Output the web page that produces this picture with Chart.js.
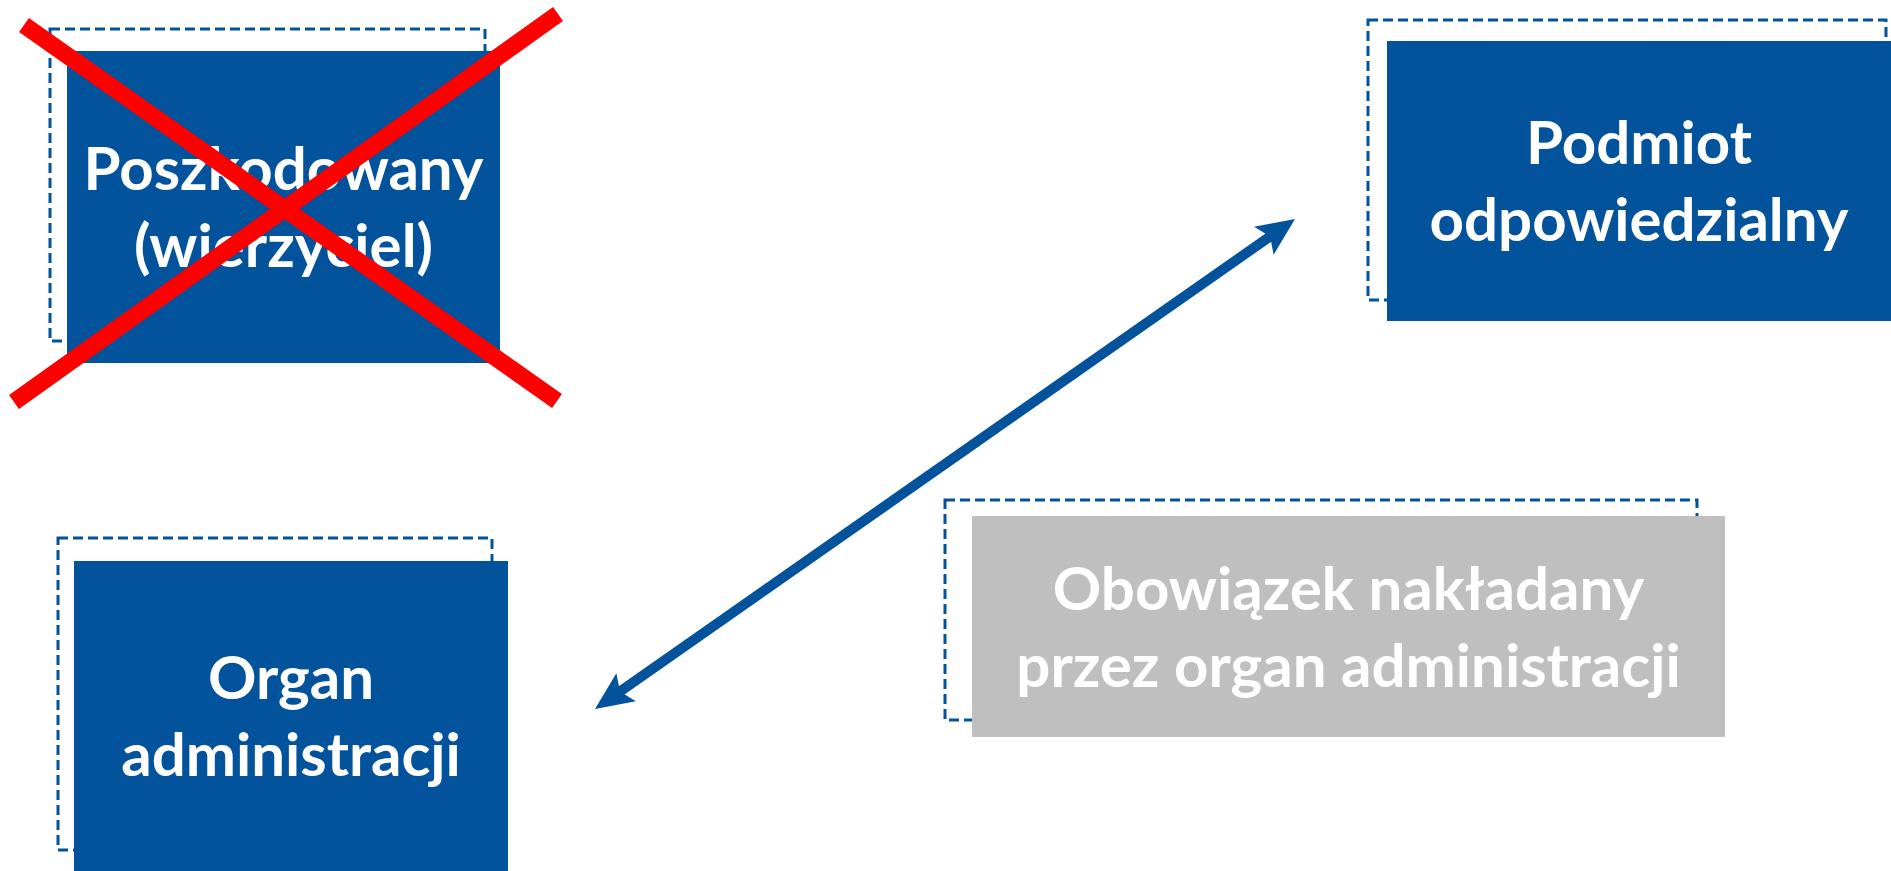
<!DOCTYPE html>
<html>
<head>
<meta charset="utf-8">
<script src="https://cdn.jsdelivr.net/npm/chart.js@4.4.1/dist/chart.umd.min.js"></script>
<style>
  html, body { margin: 0; padding: 0; background: #fff; overflow: hidden; }
  canvas { display: block; }
</style>
</head>
<body>
<canvas id="myChart" width="1891" height="871"></canvas>
<script>
const colors = ['#02529C', '#BFBFBF', '#FF0000', '#ffffff'];

// boxes (diagram units, y grows downward)
const boxLabels = [
  ['Poszkodowany', '(wierzyciel)'],
  ['Podmiot', 'odpowiedzialny'],
  ['Organ', 'administracji'],
  ['Obowiązek nakładany', 'przez organ administracji']
];
const boxLeft   = [67, 1387, 74, 972];
const boxRight  = [500, 1891, 508, 1725];
const boxTop    = [51, 41, 561, 516];
const boxBottom = [363, 321, 871, 737];
const boxFill   = [0, 0, 0, 1];

// dashed frames behind the boxes
const frameLeft   = [50, 1368, 58, 945];
const frameRight  = [485, 1886, 492, 1697];
const frameTop    = [29, 20, 538, 500];
const frameBottom = [341, 300, 850, 720];

// red cross over the first box
const cross1 = [{x: 24, y: 25}, {x: 557, y: 401}];
const cross2 = [{x: 558, y: 14}, {x: 14, y: 402}];

// double arrow
const arrowFrom = {x: 595, y: 709};
const arrowTo   = {x: 1295, y: 219};

var ctx = document.getElementById('myChart');

var boxesPlugin = {
  id: 'boxes',
  beforeDatasetsDraw(chart) {
    const c = chart.ctx, xs = chart.scales.x, ys = chart.scales.y;
    c.save();
    // dashed frames
    c.strokeStyle = colors[0];
    c.lineWidth = 3;
    c.setLineDash([10, 5]);
    for (let i = 0; i < frameLeft.length; i++) {
      const x0 = xs.getPixelForValue(frameLeft[i]), x1 = xs.getPixelForValue(frameRight[i]);
      const y0 = ys.getPixelForValue(frameTop[i]), y1 = ys.getPixelForValue(frameBottom[i]);
      c.strokeRect(x0, y0, x1 - x0, y1 - y0);
    }
    c.setLineDash([]);
    // filled boxes + text
    for (let i = 0; i < boxLeft.length; i++) {
      const x0 = xs.getPixelForValue(boxLeft[i]), x1 = xs.getPixelForValue(boxRight[i]);
      const y0 = ys.getPixelForValue(boxTop[i]), y1 = ys.getPixelForValue(boxBottom[i]);
      c.fillStyle = colors[boxFill[i]];
      c.fillRect(x0, y0, x1 - x0, y1 - y0);
      const cx = (x0 + x1) / 2, cy = (y0 + y1) / 2;
      c.fillStyle = colors[3];
      c.font = 'bold 60px Lato';
      c.textAlign = 'center';
      c.textBaseline = 'alphabetic';
      boxLabels[i].forEach((t, k) => {
        c.fillText(t, cx, cy - 17 + k * 77);
      });
    }
    c.restore();
  },
  afterDatasetsDraw(chart) {
    const c = chart.ctx, xs = chart.scales.x, ys = chart.scales.y;
    const ax = xs.getPixelForValue(arrowFrom.x), ay = ys.getPixelForValue(arrowFrom.y);
    const bx = xs.getPixelForValue(arrowTo.x), by = ys.getPixelForValue(arrowTo.y);
    const len = Math.hypot(bx - ax, by - ay);
    const ux = (bx - ax) / len, uy = (by - ay) / len;
    const headL = 38, headW = 17;
    c.save();
    c.strokeStyle = colors[0];
    c.fillStyle = colors[0];
    c.lineWidth = 10;
    c.beginPath();
    c.moveTo(ax + ux * headL * 0.5, ay + uy * headL * 0.5);
    c.lineTo(bx - ux * headL * 0.5, by - uy * headL * 0.5);
    c.stroke();
    [[bx, by, 1], [ax, ay, -1]].forEach(([tx, ty, s]) => {
      const dx = ux * s, dy = uy * s;
      c.beginPath();
      c.moveTo(tx, ty);
      c.lineTo(tx - dx * headL - dy * headW, ty - dy * headL + dx * headW);
      c.lineTo(tx - dx * headL * 0.8, ty - dy * headL * 0.8);
      c.lineTo(tx - dx * headL + dy * headW, ty - dy * headL - dx * headW);
      c.closePath();
      c.fill();
    });
    c.restore();
  }
};

var myChart = new Chart(ctx, {
  type: 'scatter',
  data: {
    datasets: [
      { label: 'x1', data: cross1, showLine: true, borderColor: colors[2], borderWidth: 17, pointRadius: 0, borderCapStyle: 'butt' },
      { label: 'x2', data: cross2, showLine: true, borderColor: colors[2], borderWidth: 17, pointRadius: 0, borderCapStyle: 'butt' }
    ]
  },
  options: {
    responsive: false,
    animation: false,
    devicePixelRatio: 1,
    layout: { padding: 0 },
    scales: {
      x: { type: 'linear', min: 0, max: 1891, display: false },
      y: { type: 'linear', min: 0, max: 871, reverse: true, display: false }
    },
    plugins: { legend: { display: false }, tooltip: { enabled: false } }
  },
  plugins: [boxesPlugin]
});
</script>
</body>
</html>
